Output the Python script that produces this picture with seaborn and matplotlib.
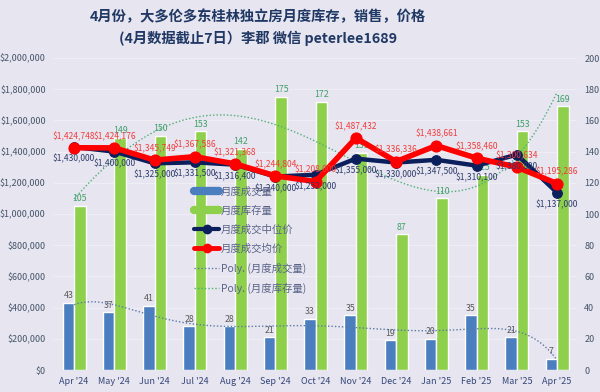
import numpy as np
import pandas as pd
import matplotlib
matplotlib.use('Agg')
import matplotlib.pyplot as plt
import seaborn as sns
from matplotlib.lines import Line2D
from matplotlib.ticker import FuncFormatter, MultipleLocator

months = ["Apr '24", "May '24", "Jun '24", "Jul '24", "Aug '24", "Sep '24", "Oct '24",
          "Nov '24", "Dec '24", "Jan '25", "Feb '25", "Mar '25", "Apr '25"]
sales = [43, 37, 41, 28, 28, 21, 33, 35, 19, 20, 35, 21, 7]
inventory = [105, 149, 150, 153, 142, 175, 172, 139, 87, 110, 125, 153, 169]
median_price = [1430000, 1400000, 1325000, 1331500, 1316400, 1240000, 1252000,
                1355000, 1330000, 1347500, 1310100, 1380800, 1137000]
avg_price = [1424748, 1424176, 1345749, 1367586, 1321368, 1244804, 1208000,
             1487432, 1336336, 1438661, 1358460, 1300634, 1195286]

title1 = "4月份，大多伦多东桂林独立房月度库存，销售，价格"
title2 = "(4月数据截止7日）李郡 微信 peterlee1689"

sns.set_theme(style='white')
plt.rcParams['font.family'] = ['Noto Sans CJK SC', 'DejaVu Sans']

BG = '#E7E5EF'
BLUE = '#4A7EBF'
GREEN = '#8ED04C'
NAVY = '#0B1F5C'
RED = '#FF0000'
TXT = '#44546A'

fig = plt.figure(figsize=(6, 3.92), dpi=100, facecolor=BG)
ax = fig.add_axes([0.09, 0.056, 0.872, 0.796])
ax.set_facecolor(BG)

df = pd.DataFrame({'month': months * 2,
                   'value': sales + inventory,
                   'series': ['月度成交量'] * len(months) + ['月度库存量'] * len(months)})
sns.barplot(data=df, x='month', y='value', hue='series', palette=[BLUE, GREEN],
            width=0.57, ax=ax, legend=False, saturation=1, dodge=True)
ax.set_xlim(-0.5, len(months) - 0.5)
ax.set_ylim(0, 200)
ax.yaxis.set_major_locator(MultipleLocator(20))
ax.set_xlabel('')
ax.set_ylabel('')
ax.set_axisbelow(True)
ax.grid(axis='y', color='#EFEEF4', lw=0.8)
for s in ax.spines.values():
    s.set_visible(False)

ax.bar_label(ax.containers[0], fontsize=6.3, color='#595959', padding=2)
ax.bar_label(ax.containers[1], fontsize=6.3, color='#3FA06A', padding=2)

# polynomial trendlines
xs = np.arange(len(months))
xf = np.linspace(0, len(months) - 1, 200)
ps = np.polyfit(xs, sales, 6)
pi = np.polyfit(xs, inventory, 4)
ax.plot(xf, np.polyval(ps, xf), color='#5B7BA6', lw=1.0, ls=(0, (1, 1.5)), zorder=3)
ax.plot(xf, np.polyval(pi, xf), color='#4FAE78', lw=1.0, ls=(0, (1, 1.5)), zorder=3)

ax2 = ax.twinx()
ax2.set_ylim(0, 2000000)
ax2.yaxis.set_major_locator(MultipleLocator(200000))
ax2.yaxis.set_major_formatter(FuncFormatter(lambda v, p: f"${v:,.0f}"))
for s in ax2.spines.values():
    s.set_visible(False)

# axis sides: bars (count) on the right, prices on the left
ax.yaxis.tick_right()
ax.yaxis.set_label_position('right')
ax2.yaxis.tick_left()
ax2.yaxis.set_label_position('left')
ax.tick_params(axis='y', labelsize=6.5, colors=TXT, length=0, pad=5,
               left=False, labelleft=False, right=True, labelright=True)
ax.tick_params(axis='x', labelsize=6.5, colors='#34477A', length=0, pad=5)
ax2.tick_params(axis='y', labelsize=6.5, colors=TXT, length=0, pad=6,
                left=True, labelleft=True, right=False, labelright=False)

sns.lineplot(x=xs, y=median_price, ax=ax2, color=NAVY, lw=3.2, marker='o',
             markersize=7, markeredgecolor=NAVY, zorder=4)
sns.lineplot(x=xs, y=avg_price, ax=ax2, color=RED, lw=4, marker='o',
             markersize=8, markeredgecolor=RED, zorder=5)

for i, v in enumerate(avg_price):
    ax2.annotate(f"${v:,}", (i, v), xytext=(0, 5), textcoords='offset points',
                 ha='center', va='bottom', fontsize=6.1, color='#F03C3C', zorder=6)
for i, v in enumerate(median_price):
    ax2.annotate(f"${v:,}", (i, v), xytext=(0, -5), textcoords='offset points',
                 ha='center', va='top', fontsize=6.1, color='#2C3A6B', zorder=6)

handles = [
    Line2D([0], [0], color=BLUE, lw=6),
    Line2D([0], [0], color=GREEN, lw=6),
    Line2D([0], [0], color=NAVY, lw=3, marker='o', markersize=6),
    Line2D([0], [0], color=RED, lw=3.5, marker='o', markersize=6),
    Line2D([0], [0], color='#5B7BA6', lw=1, ls=(0, (1, 1.5))),
    Line2D([0], [0], color='#4FAE78', lw=1, ls=(0, (1, 1.5))),
]
labels = ['月度成交量', '月度库存量', '月度成交中位价', '月度成交均价',
          'Poly. (月度成交量)', 'Poly. (月度库存量)']
fig.legend(handles, labels, loc='upper left', bbox_to_anchor=(0.308, 0.548),
           frameon=False, fontsize=7.5, labelcolor='#5A6488', handlelength=2.4,
           labelspacing=0.85, handletextpad=0.15)

fig.text(0.43, 0.956, title1, ha='center', va='center', fontsize=10.3,
         fontweight='bold', color='#1F3864')
fig.text(0.43, 0.903, title2, ha='center', va='center', fontsize=10.3,
         fontweight='bold', color='#1F3864')

fig.savefig('out.png', dpi=100, facecolor=BG)
